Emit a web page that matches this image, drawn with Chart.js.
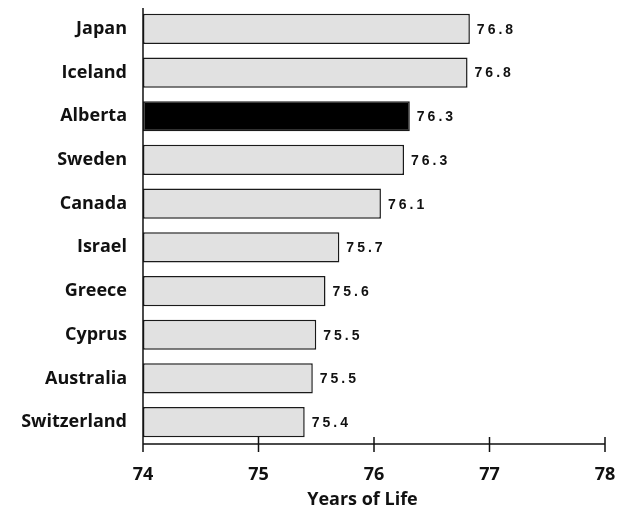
<!DOCTYPE html>
<html>
<head>
<meta charset="utf-8">
<script src="https://cdn.jsdelivr.net/npm/chart.js@4/dist/chart.umd.min.js"></script>
<style>
  html, body { margin: 0; padding: 0; background: #fff; }
  #wrap { width: 625px; height: 510px; }
</style>
</head>
<body>
<div id="wrap"><canvas id="life-chart"></canvas></div>
<script>
const regions = ['Japan', 'Iceland', 'Alberta', 'Sweden', 'Canada', 'Israel', 'Greece', 'Cyprus', 'Australia', 'Switzerland'];
const lifeYears = [76.83, 76.81, 76.31, 76.26, 76.06, 75.70, 75.58, 75.50, 75.47, 75.40];
const xTicks = [74, 75, 76, 77, 78];
const highlight = 'Alberta';
const xTitle = 'Years of Life';

const labelFont = '"Open Sans", "DejaVu Sans", sans-serif';

// axis lines, crossing tick marks, axis title and the value beside each bar
const axisDecor = {
    id: 'axisDecor',
    afterDatasetsDraw(chart) {
        const { ctx, chartArea: a, scales: { x } } = chart;
        ctx.save();
        ctx.strokeStyle = '#111';
        ctx.lineWidth = 1.5;
        ctx.beginPath();
        ctx.moveTo(a.left, a.top + 1);
        ctx.lineTo(a.left, a.bottom + 8);
        ctx.moveTo(a.left, a.bottom);
        ctx.lineTo(a.right, a.bottom);
        xTicks.forEach(v => {
            const px = x.getPixelForValue(v);
            ctx.moveTo(px, a.bottom - 7);
            ctx.lineTo(px, a.bottom + 8);
        });
        ctx.stroke();

        // title sits a little left of the axis centre
        ctx.fillStyle = '#111';
        ctx.font = 'bold 18px ' + labelFont;
        ctx.textAlign = 'center';
        ctx.textBaseline = 'alphabetic';
        ctx.fillText(xTitle, x.getPixelForValue(75.9), a.bottom + 61);

        const meta = chart.getDatasetMeta(0);
        ctx.font = 'bold 14px "Liberation Sans", Arial, sans-serif';
        ctx.letterSpacing = '3px';
        ctx.textBaseline = 'middle';
        ctx.textAlign = 'left';
        meta.data.forEach((bar, i) => {
            ctx.fillText(lifeYears[i].toFixed(1), bar.x + 7, bar.y + 1);
        });
        ctx.restore();
    }
};

new Chart(document.getElementById('life-chart'), {
    type: 'bar',
    data: {
        labels: regions,
        datasets: [{
            data: lifeYears,
            backgroundColor: regions.map(r => r === highlight ? '#000' : '#e1e1e1'),
            borderColor: '#1a1a1a',
            borderWidth: 1.5,
            borderSkipped: false,
            barPercentage: 0.69,
            categoryPercentage: 1,
            base: 74
        }]
    },
    options: {
        indexAxis: 'y',
        responsive: true,
        maintainAspectRatio: false,
        animation: false,
        layout: { padding: { top: 7, right: 20, left: 0, bottom: 0 } },
        plugins: {
            legend: { display: false },
            tooltip: { enabled: false }
        },
        scales: {
            x: {
                min: 74,
                max: 78,
                afterBuildTicks: axis => { axis.ticks = xTicks.map(v => ({ value: v })); },
                afterFit: axis => {
                    axis.height = 66;
                    axis.paddingLeft = 0;
                    axis.paddingRight = 0;
                },
                grid: { display: false, drawTicks: false },
                border: { display: false },
                ticks: {
                    color: '#111',
                    padding: 20,
                    maxRotation: 0,
                    font: { family: labelFont, size: 18, weight: 'bold' }
                }
            },
            y: {
                afterFit: axis => {
                    axis.width = 143;
                    axis.paddingTop = 0;
                    axis.paddingBottom = 0;
                },
                grid: { display: false, drawTicks: false },
                border: { display: false },
                ticks: {
                    color: '#111',
                    padding: 16,
                    font: { family: labelFont, size: 18, weight: 'bold' }
                }
            }
        }
    },
    plugins: [axisDecor]
});
</script>
</body>
</html>
